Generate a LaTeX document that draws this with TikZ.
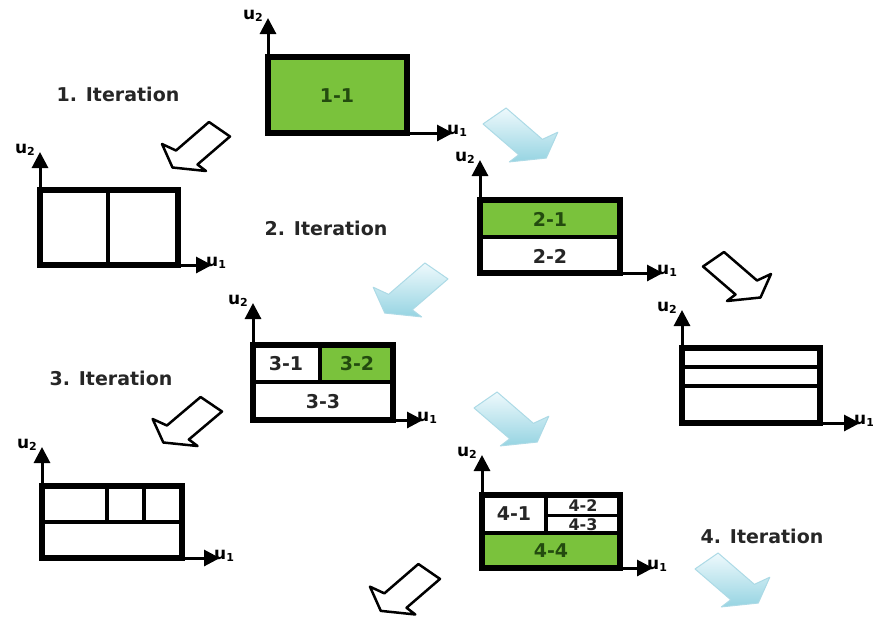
\documentclass[tikz,border=0pt]{standalone}
\usepackage{fontspec}
\setmainfont{DejaVu Sans}
\usetikzlibrary{arrows.meta}
\definecolor{boxgreen}{RGB}{122,194,60}
\definecolor{greentext}{RGB}{35,75,15}
\definecolor{arrowlight}{RGB}{238,249,252}
\definecolor{arrowdark}{RGB}{150,212,226}
\definecolor{arrowedge}{RGB}{172,218,230}
\newcommand\blockarrowpath{(0,14.5) -- (21,0) -- (54,28.5) -- (68,22) -- (57.5,45.5) -- (24,49) -- (32.5,42.5) -- cycle}
\newcommand\axname[1]{u\raisebox{-2.5pt}{\fontsize{11}{11}\selectfont #1}}
\tikzset{
  axis/.style={line width=3pt, -{Triangle[length=16pt,width=16pt]}},
  outerbox/.style={line width=6.5pt},
  divider/.style={line width=4.5pt},
  thindivider/.style={line width=3pt},
  cell/.style={font=\bfseries\fontsize{19}{19}\selectfont, text=black!85, inner sep=0pt},
  smallcell/.style={cell, font=\bfseries\fontsize{16}{16}\selectfont},
  greencell/.style={cell, text=greentext},
  iterlabel/.style={font=\bfseries\fontsize{19}{19}\selectfont, text=black!85, inner sep=0pt},
  axlabel/.style={font=\bfseries\fontsize{17}{17}\selectfont, inner sep=0pt},
  ylab/.style={axlabel, anchor=east, xshift=-5pt, yshift=2pt},
  xlab/.style={axlabel, anchor=south west, xshift=-6pt, yshift=-4pt},
  whitearrow/.style={draw=black, fill=white, line width=2.5pt, line join=round},
  bluearrow/.style={draw=arrowedge, line width=1pt, line join=round, top color=arrowlight, bottom color=arrowdark}
}
\begin{document}
\begin{tikzpicture}[x=1pt,y=-1pt]
\useasboundingbox[fill=white] (0,0) rectangle (873,619);

% ---------- Box A: 1-1 ----------
\coordinate (oA) at (268,133); \coordinate (yA) at (268,18); \coordinate (xA) at (453,133);
\draw[axis] (oA) -- (yA); \draw[axis] (oA) -- (xA);
\filldraw[outerbox, fill=boxgreen] (268,57) rectangle (407,133);
\node[greencell] (c11) at (337,96) {1-1};
\node[ylab] (lyA) at (yA) {\axname{2}};
\node[xlab] (lxA) at (xA) {\axname{1}};

% ---------- Box B: 2-1 / 2-2 ----------
\coordinate (oB) at (480,273); \coordinate (yB) at (480,160); \coordinate (xB) at (663,273);
\draw[axis] (oB) -- (yB); \draw[axis] (oB) -- (xB);
\fill[white] (480,200) rectangle (620,273);
\fill[boxgreen] (480,200) rectangle (620,237);
\draw[divider] (480,237) -- (620,237);
\draw[outerbox] (480,200) rectangle (620,273);
\node[greencell] (c21) at (550,219) {2-1};
\node[cell] (c22) at (550,256) {2-2};
\node[ylab] (lyB) at (yB) {\axname{2}};
\node[xlab] (lxB) at (xB) {\axname{1}};

% ---------- Box C: iteration 1 split ----------
\coordinate (oC) at (40,265); \coordinate (yC) at (40,152); \coordinate (xC) at (212,265);
\draw[axis] (oC) -- (yC); \draw[axis] (oC) -- (xC);
\draw[divider] (108,190) -- (108,265);
\draw[outerbox] (40,190) rectangle (178,265);
\node[ylab] (lyC) at (yC) {\axname{2}};
\node[xlab] (lxC) at (xC) {\axname{1}};

% ---------- Box D: 3-x ----------
\coordinate (oD) at (253,420); \coordinate (yD) at (253,303); \coordinate (xD) at (423,420);
\draw[axis] (oD) -- (yD); \draw[axis] (oD) -- (xD);
\fill[white] (253,345) rectangle (393,420);
\fill[boxgreen] (320,345) rectangle (393,382);
\draw[divider] (253,382) -- (393,382);
\draw[divider] (320,345) -- (320,382);
\draw[outerbox] (253,345) rectangle (393,420);
\node[cell] (c31) at (286,364) {3-1};
\node[greencell] (c32) at (357,364) {3-2};
\node[cell] (c33) at (323,402) {3-3};
\node[ylab] (lyD) at (yD) {\axname{2}};
\node[xlab] (lxD) at (xD) {\axname{1}};

% ---------- Box E: iteration 2 split ----------
\coordinate (oE) at (682,423); \coordinate (yE) at (682,310); \coordinate (xE) at (860,423);
\draw[axis] (oE) -- (yE); \draw[axis] (oE) -- (xE);
\draw[divider] (682,367) -- (820,367);
\draw[divider] (682,386) -- (820,386);
\draw[outerbox] (682,348) rectangle (820,423);
\node[ylab] (lyE) at (yE) {\axname{2}};
\node[xlab] (lxE) at (xE) {\axname{1}};

% ---------- Box F: iteration 3 split ----------
\coordinate (oF) at (42,558); \coordinate (yF) at (42,447); \coordinate (xF) at (220,558);
\draw[axis] (oF) -- (yF); \draw[axis] (oF) -- (xF);
\draw[divider] (42,522) -- (182,522);
\draw[divider] (107,486) -- (107,522);
\draw[divider] (144,486) -- (144,522);
\draw[outerbox] (42,486) rectangle (182,558);
\node[ylab] (lyF) at (yF) {\axname{2}};
\node[xlab] (lxF) at (xF) {\axname{1}};

% ---------- Box G: 4-x ----------
\coordinate (oG) at (482,568); \coordinate (yG) at (482,455); \coordinate (xG) at (653,568);
\draw[axis] (oG) -- (yG); \draw[axis] (oG) -- (xG);
\fill[white] (482,495) rectangle (620,568);
\fill[boxgreen] (482,533) rectangle (620,568);
\draw[divider] (482,533) -- (620,533);
\draw[divider] (546,495) -- (546,533);
\draw[thindivider] (546,515) -- (620,515);
\draw[outerbox] (482,495) rectangle (620,568);
\node[cell] (c41) at (514,514) {4-1};
\node[smallcell] (c42) at (583,506) {4-2};
\node[smallcell] (c43) at (583,525) {4-3};
\node[greencell] (c44) at (551,551) {4-4};
\node[ylab] (lyG) at (yG) {\axname{2}};
\node[xlab] (lxG) at (xG) {\axname{1}};

% ---------- Iteration labels ----------
\node[iterlabel] (it1) at (118,94) {1. Iteration};
\node[iterlabel] (it2) at (326,228) {2. Iteration};
\node[iterlabel] (it3) at (111,378) {3. Iteration};
\node[iterlabel] (it4) at (762,536) {4. Iteration};

% ---------- White block arrows ----------
\begin{scope}[shift={(230,122)}, xscale=-1]
  \path[whitearrow] \blockarrowpath;
\end{scope}
\begin{scope}[shift={(703,252)}]
  \path[whitearrow] \blockarrowpath;
\end{scope}
\begin{scope}[shift={(222,397)}, xscale=-1.02]
  \path[whitearrow] \blockarrowpath;
\end{scope}
\begin{scope}[shift={(440,564)}, xscale=-1.03, yscale=1.03]
  \path[whitearrow] \blockarrowpath;
\end{scope}

% ---------- Light blue block arrows ----------
\begin{scope}[shift={(483,108)}, scale=1.1]
  \path[bluearrow] \blockarrowpath;
\end{scope}
\begin{scope}[shift={(448,263)}, xscale=-1.1, yscale=1.1]
  \path[bluearrow] \blockarrowpath;
\end{scope}
\begin{scope}[shift={(474,392)}, scale=1.1]
  \path[bluearrow] \blockarrowpath;
\end{scope}
\begin{scope}[shift={(695,553)}, scale=1.1]
  \path[bluearrow] \blockarrowpath;
\end{scope}
\end{tikzpicture}
\end{document}
